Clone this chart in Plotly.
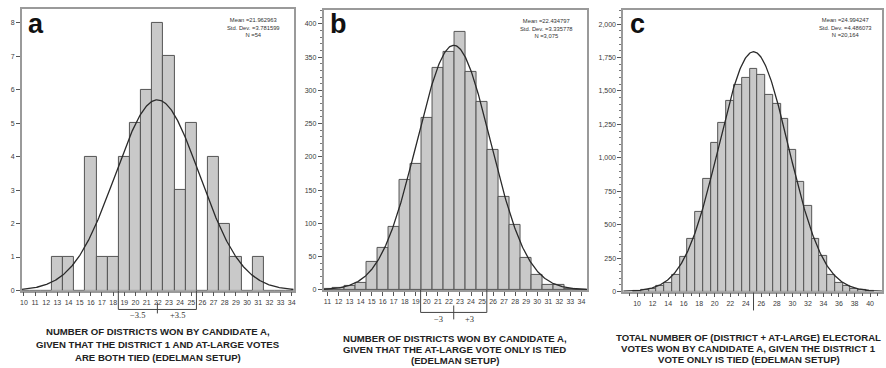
import numpy as np
import plotly.graph_objects as go

W, H = 886, 368

# ---------------- data ----------------
a_bins = list(range(10, 35))
a_counts = [0, 0, 0, 1, 1, 0, 4, 1, 1, 4, 5, 6, 8, 7, 3, 5, 0, 4, 2, 1, 0, 1, 0, 0, 0]
a_stats = dict(mean=21.962963, sd=3.781599, n=54)
a_stat_text = ["Mean =21.962963", "Std. Dev. =3.781599", "N =54"]
a_title = ["NUMBER OF DISTRICTS WON BY CANDIDATE A,",
           "GIVEN THAT THE DISTRICT 1 AND AT-LARGE VOTES",
           "ARE BOTH TIED (EDELMAN SETUP)"]
a_bracket = 3.5
a_bracket_labels = ["\u22123.5", "+3.5"]

b_bins = list(range(11, 35))
b_counts = [1, 3, 6, 10, 42, 63, 94, 166, 190, 258, 334, 358, 388, 327, 283,
            210, 139, 97, 48, 22, 8, 7, 2, 0]
b_stats = dict(mean=22.434797, sd=3.335778, n=3075)
b_stat_text = ["Mean =22.434797", "Std. Dev. =3.335778", "N =3,075"]
b_title = ["NUMBER OF DISTRICTS WON BY CANDIDATE A,",
           "GIVEN THAT THE AT-LARGE VOTE ONLY IS TIED",
           "(EDELMAN SETUP)"]
b_bracket = 3
b_bracket_labels = ["\u22123", "+3"]

c_bins = list(range(10, 41))
c_counts = [5, 12, 22, 42, 67, 121, 259, 395, 598, 844, 1109, 1264, 1424, 1548,
            1598, 1664, 1617, 1469, 1405, 1289, 1059, 820, 639, 393, 264, 121,
            62, 42, 21, 10, 5]
c_stats = dict(mean=24.994247, sd=4.486073, n=20164)
c_stat_text = ["Mean =24.994247", "Std. Dev. =4.486073", "N =20,164"]
c_title = ["TOTAL NUMBER OF (DISTRICT + AT-LARGE) ELECTORAL",
           "VOTES WON BY CANDIDATE A, GIVEN THE DISTRICT 1",
           "VOTE ONLY IS TIED (EDELMAN SETUP)"]

letters = ["a", "b", "c"]

# ---------------- layout helpers ----------------
def px(x):
    return x / W

def py(y):
    return 1 - y / H

BAR_FILL = "#c9c9c9"
BAR_LINE = "#555555"
CURVE = "#2a2a2a"
FRAME = "#9a9a9a"
TXT = "#3a3a3a"
FONT = "Liberation Sans, Arial, sans-serif"

panels = [
    dict(bins=a_bins, counts=a_counts, st=a_stats, stxt=a_stat_text, title=a_title,
         xd=[px(20), px(293)], yd=[py(293), py(9)], xr=[9.822, 34.178], yr=[-0.004, 8.415],
         ydt=1, yminor=None, xdt=1, xminor=None, yfmt="d",
         stat_x=253, stat_y=28, title_x=157, title_y=[334, 347, 360],
         letter_xy=(24, 24)),
    dict(bins=b_bins, counts=b_counts, st=b_stats, stxt=b_stat_text, title=b_title,
         xd=[px(323), px(588)], yd=[py(292.3), py(10)], xr=[10.64, 34.54], yr=[-0.2, 421],
         ydt=50, yminor=10, xdt=1, xminor=None, yfmt="d",
         stat_x=547, stat_y=29, title_x=455, title_y=[341, 352, 363],
         letter_xy=(327, 24)),
    dict(bins=c_bins, counts=c_counts, st=c_stats, stxt=c_stat_text, title=c_title,
         xd=[px(624), px(884)], yd=[py(294), py(10)], xr=[8.21, 41.54], yr=[-1, 2106],
         ydt=250, yminor=50, xdt=2, xminor=1, yfmt=",d",
         stat_x=847, stat_y=28, title_x=750, title_y=[340, 351, 362],
         letter_xy=(629, 24)),
]

fig = go.Figure()
annotations = []
shapes = []

for i, p in enumerate(panels):
    k = "" if i == 0 else str(i + 1)
    xa, ya = "x" + k, "y" + k
    fig.add_trace(go.Bar(
        x=p["bins"], y=p["counts"], width=1,
        marker=dict(color=BAR_FILL, line=dict(color=BAR_LINE, width=1)),
        xaxis=xa, yaxis=ya, showlegend=False, hoverinfo="x+y"))
    m, s, n = p["st"]["mean"], p["st"]["sd"], p["st"]["n"]
    xs = np.linspace(p["xr"][0], p["xr"][1], 400)
    ys = n / (s * np.sqrt(2 * np.pi)) * np.exp(-0.5 * ((xs - m) / s) ** 2)
    fig.add_trace(go.Scatter(x=xs, y=ys, mode="lines",
                             line=dict(color=CURVE, width=1.3),
                             xaxis=xa, yaxis=ya, showlegend=False, hoverinfo="skip"))

    xaxis = dict(domain=p["xd"], range=p["xr"], anchor=ya, tickmode="linear",
                 tick0=0, dtick=p["xdt"], ticks="outside", ticklen=4, tickwidth=1,
                 tickcolor="#555", showline=True, linecolor=FRAME, linewidth=1.5,
                 mirror=True, showgrid=False, zeroline=False,
                 tickfont=dict(family=FONT, size=7, color=TXT))
    if p["xminor"]:
        xaxis["minor"] = dict(dtick=p["xminor"], ticks="outside", ticklen=3,
                              tickcolor="#555", showgrid=False)
    yaxis = dict(domain=p["yd"], range=p["yr"], anchor=xa, tickmode="linear",
                 tick0=0, dtick=p["ydt"], ticks="outside", ticklen=4, tickwidth=1,
                 tickcolor="#555", showline=True, linecolor=FRAME, linewidth=1.5,
                 mirror=True, showgrid=False, zeroline=False, tickformat=p["yfmt"],
                 tickfont=dict(family=FONT, size=7, color=TXT))
    if p["yminor"]:
        yaxis["minor"] = dict(dtick=p["yminor"], ticks="outside", ticklen=2,
                              tickcolor="#777", showgrid=False)
    fig.layout["xaxis" + k] = xaxis
    fig.layout["yaxis" + k] = yaxis

    # panel letter
    annotations.append(dict(x=px(p["letter_xy"][0]), y=py(p["letter_xy"][1]),
                            xref="paper", yref="paper", xanchor="left", yanchor="middle",
                            text="<b>%s</b>" % letters[i], showarrow=False,
                            font=dict(family=FONT, size=27, color="#111")))
    # stats text (one block)
    annotations.append(dict(x=px(p["stat_x"]), y=py(p["stat_y"]), xref="paper", yref="paper",
                            xanchor="center", yanchor="middle", align="center",
                            text="<br>".join(p["stxt"]), showarrow=False, borderpad=0,
                            font=dict(family=FONT, size=5.8, color="#333")))
    # bottom title
    for t, yy in zip(p["title"], p["title_y"]):
        annotations.append(dict(x=px(p["title_x"]), y=py(yy), xref="paper", yref="paper",
                                xanchor="center", yanchor="middle", text="<b>%s</b>" % t,
                                showarrow=False,
                                font=dict(family=FONT, size=9.6, color="#222")))

# brackets (mean ± bracket width) below the axes
def bracket(i, m, half, y_top, y_bot, tick_top, tick_bot, labels, label_y, label_dx):
    k = "" if i == 0 else str(i + 1)
    xa = "x" + k
    L = dict(color="#444", width=1)
    shapes.append(dict(type="path", xref=xa, yref="paper",
                       path="M %f,%f L %f,%f L %f,%f L %f,%f" % (
                           m - half, py(y_top), m - half, py(y_bot),
                           m + half, py(y_bot), m + half, py(y_top)),
                       line=L))
    shapes.append(dict(type="line", xref=xa, yref="paper", x0=m, x1=m,
                       y0=py(tick_top), y1=py(tick_bot), line=L))
    for lab, sgn in zip(labels, [-1, 1]):
        annotations.append(dict(x=m + sgn * label_dx, y=py(label_y), xref=xa, yref="paper",
                                xanchor="center", yanchor="middle", text=lab,
                                showarrow=False,
                                font=dict(family="Liberation Serif, Times New Roman, serif",
                                          size=8.5, color="#333")))

bracket(0, a_stats["mean"], a_bracket, 293, 312, 305, 316, a_bracket_labels, 318, 1.8)
bracket(1, b_stats["mean"], b_bracket, 292.3, 315, 308, 322, b_bracket_labels, 322, 1.4)
shapes.append(dict(type="line", xref="x3", yref="paper", x0=c_stats["mean"],
                   x1=c_stats["mean"], y0=py(295), y1=py(313),
                   line=dict(color="#444", width=1)))

fig.update_layout(width=W, height=H, margin=dict(l=0, r=0, t=0, b=0),
                  paper_bgcolor="white", plot_bgcolor="white", bargap=0,
                  annotations=annotations, shapes=shapes,
                  font=dict(family=FONT))
fig.write_html("out.html")
